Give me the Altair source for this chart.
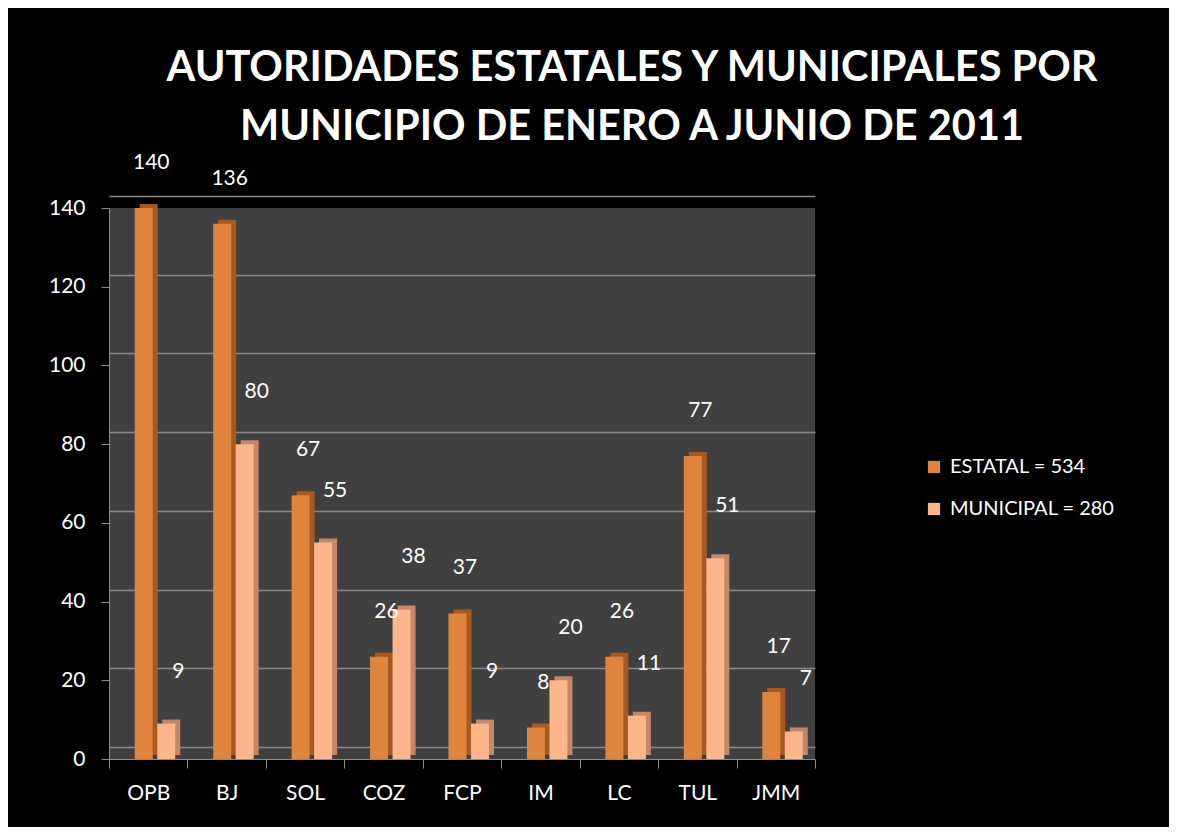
import altair as alt
import pandas as pd

categories = ["OPB", "BJ", "SOL", "COZ", "FCP", "IM", "LC", "TUL", "JMM"]
estatal = [140, 136, 67, 26, 37, 8, 26, 77, 17]
municipal = [9, 80, 55, 38, 9, 20, 11, 51, 7]
series = ["ESTATAL", "MUNICIPAL"]
y_ticks = [0, 20, 40, 60, 80, 100, 120, 140]
title_lines = ["AUTORIDADES ESTATALES Y MUNICIPALES POR",
               "MUNICIPIO DE ENERO A JUNIO DE 2011"]

legend_labels = [f"{series[0]} =  {sum(estatal)}", f"{series[1]} =  {sum(municipal)}"]

rows = []
for c, e, m in zip(categories, estatal, municipal):
    rows.append({"cat": c, "serie": legend_labels[0], "valor": e})
    rows.append({"cat": c, "serie": legend_labels[1], "valor": m})
df = pd.DataFrame(rows)

FONT = "Lato"
front_colors = ["#DF843D", "#FBB68C"]
side_colors = ["#A65A22", "#C48769"]
bar_offsets = [-4.5, 18]
label_dx = [3, 30]
label_dy = [-45, -52]

x_enc = alt.X("cat:N", sort=categories, title=None,
              scale=alt.Scale(paddingInner=0, paddingOuter=0),
              axis=alt.Axis(labelColor="white", labelFont=FONT, labelFontSize=21,
                            labelAngle=0, labelPadding=14, tickSize=9, tickColor="#8c8c8c",
                            domainColor="#8c8c8c", tickBand="extent", bandPosition=0,
                            grid=False))
y_scale = alt.Scale(domain=[0, 140], nice=False)

base = alt.Chart(df)
layers = []

# side faces of the bars; the first also carries the back-wall grid
for i, lab in enumerate(legend_labels):
    side = base.transform_filter(alt.datum.serie == lab).mark_bar(
        width=18, xOffset=bar_offsets[i] + 5, x2Offset=bar_offsets[i] + 5,
        yOffset=-4, y2Offset=-4, color=side_colors[i]
    ).encode(
        x=x_enc,
        y=alt.Y("valor:Q", scale=y_scale, title=None,
                axis=alt.Axis(orient="right", grid=True, labels=False, ticks=False,
                              domain=False, values=y_ticks, tickOffset=-12,
                              gridColor="#8a8a8a", gridWidth=1.5) if i == 0 else None),
    )
    layers.append(side)

for i, lab in enumerate(legend_labels):
    front = base.transform_filter(alt.datum.serie == lab).mark_bar(
        width=18, xOffset=bar_offsets[i], x2Offset=bar_offsets[i]
    ).encode(
        x=x_enc,
        y=alt.Y("valor:Q", scale=y_scale, title=None,
                axis=alt.Axis(orient="left", grid=False, values=y_ticks,
                              labelColor="white", labelFont=FONT, labelFontSize=21,
                              labelPadding=16, tickSize=8, tickColor="#8c8c8c",
                              domainColor="#8c8c8c") if i == 0 else None),
        color=alt.Color("serie:N", scale=alt.Scale(domain=legend_labels, range=front_colors),
                        legend=alt.Legend(title=None, orient="none", legendX=815, legendY=249,
                                          symbolType="square", symbolSize=150,
                                          symbolStrokeWidth=0, labelColor="white",
                                          labelFont=FONT, labelFontSize=20, rowPadding=22,
                                          labelOffset=6, labelLimit=400)),
    )
    layers.append(front)

for i, lab in enumerate(legend_labels):
    txt = base.transform_filter(alt.datum.serie == lab).mark_text(
        color="white", font=FONT, fontSize=21, dx=label_dx[i], dy=label_dy[i],
        baseline="middle", align="center"
    ).encode(
        x=x_enc,
        y=alt.Y("valor:Q", scale=y_scale, title=None, axis=None),
        text="valor:Q",
    )
    layers.append(txt)

chart = alt.layer(*layers).resolve_axis(y="independent").properties(
    width=706, height=551,
    autosize=alt.AutoSizeParams(type="none"),
    padding={"left": 101, "top": 200, "right": 354, "bottom": 68},
    background="black",
    title=alt.Title(title_lines, fontSize=41.5, font=FONT, fontWeight="bold", color="white",
                    anchor="middle", frame="group", dx=170, offset=4, lineHeight=59),
).configure_view(fill="#404040", stroke=None)

chart.save("out.html", embed_options={"renderer": "svg", "actions": False})
